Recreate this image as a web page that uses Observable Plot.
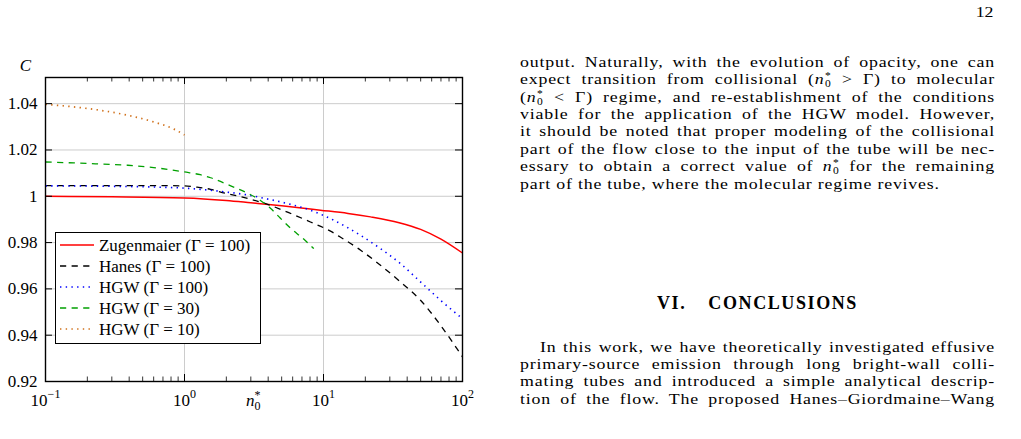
<!DOCTYPE html>
<html>
<head>
<meta charset="utf-8">
<script src="https://cdn.jsdelivr.net/npm/d3@7"></script>
<script src="https://cdn.jsdelivr.net/npm/@observablehq/plot@0.6"></script>
<style>
html,body{margin:0;padding:0;background:#fff;}
body{width:1021px;height:439px;overflow:hidden;position:relative;font-family:'Liberation Serif',serif;color:#000;}
#chart{position:absolute;left:0;top:0;}
#legend{position:absolute;left:55px;top:231.7px;width:205.7px;height:112.6px;box-sizing:border-box;border:1.3px solid #000;background:#fff;padding-top:2px;font-size:17px;font-family:'Liberation Serif',serif;}
#legend .row{display:flex;align-items:center;height:21px;line-height:21px;white-space:nowrap;}
#legend svg{margin-left:3.7px;margin-right:5.3px;flex:none;}
.txt{position:absolute;left:520px;width:413px;font-size:15.5px;letter-spacing:0.7px;transform:scaleX(1.15);transform-origin:0 0;}
.ln{height:17.4px;line-height:17.4px;text-align:justify;text-align-last:justify;white-space:nowrap;}
.ln.last{text-align:left;text-align-last:left;}
.ss{display:inline-block;font-size:10px;line-height:8px;vertical-align:-3px;margin-left:0.5px;margin-right:1px;text-align:left;letter-spacing:0;}
.ss span{display:block;}
#head{position:absolute;left:520px;width:475px;top:293px;text-align:center;font-weight:bold;font-size:18px;letter-spacing:1.6px;line-height:21px;}
#pnum{position:absolute;right:28px;top:2.8px;font-size:15.5px;line-height:17.4px;transform:scaleX(1.15);transform-origin:100% 0;}
</style>
</head>
<body>
<div id="chart"></div>
<div id="legend"></div>
<div id="pnum">12</div>
<div class="txt" id="p1" style="top:52.8px">
<div class="ln">output. Naturally, with the evolution of opacity, one can</div>
<div class="ln">expect transition from collisional (<i>n</i><span class="ss"><span>*</span><span>0</span></span> &gt; Γ) to molecular</div>
<div class="ln">(<i>n</i><span class="ss"><span>*</span><span>0</span></span> &lt; Γ) regime, and re-establishment of the conditions</div>
<div class="ln">viable for the application of the HGW model. However,</div>
<div class="ln">it should be noted that proper modeling of the collisional</div>
<div class="ln">part of the flow close to the input of the tube will be nec-</div>
<div class="ln">essary to obtain a correct value of <i>n</i><span class="ss"><span>*</span><span>0</span></span> for the remaining</div>
<div class="ln last">part of the tube, where the molecular regime revives.</div>
</div>
<div id="head">VI.<span style="margin-left:22px">CONCLUSIONS</span></div>
<div class="txt" id="p2" style="top:337.6px">
<div class="ln" style="padding-left:17.4px">In this work, we have theoretically investigated effusive</div>
<div class="ln">primary-source emission through long bright-wall colli-</div>
<div class="ln">mating tubes and introduced a simple analytical descrip-</div>
<div class="ln">tion of the flow. The proposed Hanes–Giordmaine–Wang</div>
</div>
<script>
// ---- data ----
const xMajor = [0.1, 1, 10, 100];
const xTickExp = ["−1", "0", "1", "2"];
const yTicks = [0.92, 0.94, 0.96, 0.98, 1.0, 1.02, 1.04];
const yTickLabels = ["0.92", "0.94", "0.96", "0.98", "1", "1.02", "1.04"];

const seriesNames = ["Zugenmaier (Γ = 100)", "Hanes (Γ = 100)", "HGW (Γ = 100)", "HGW (Γ = 30)", "HGW (Γ = 10)"];

const zugenmaierX = [0.1, 0.3, 1, 2, 3, 5, 9.5, 15, 21.8, 35, 50, 70, 100];
const zugenmaierY = [1.0000, 0.9998, 0.9993, 0.9982, 0.9972, 0.9959, 0.9940, 0.9926, 0.9911, 0.9886, 0.9857, 0.9815, 0.9755];

const hanesX = [0.1, 0.3, 0.6, 1, 1.2, 1.54, 1.87, 2.75, 3.83, 5.63, 8.05, 11.5, 13.2, 18.5, 25.7, 35.8, 49.9, 69.5, 100];
const hanesY = [1.0046, 1.0046, 1.0046, 1.0045, 1.0040, 1.0030, 1.0016, 0.9993, 0.9968, 0.9929, 0.9889, 0.9846, 0.9824, 0.9767, 0.9702, 0.9630, 0.9551, 0.9443, 0.9306];

const hgw100X = [0.1, 0.3, 0.6, 1, 1.3, 1.96, 2.75, 3.83, 5.8, 8.05, 11.8, 18.5, 25.7, 35.8, 49.9, 69.5, 100];
const hgw100Y = [1.0045, 1.0043, 1.0040, 1.0035, 1.0030, 1.0019, 1.0007, 0.9990, 0.9965, 0.9940, 0.9897, 0.9831, 0.9774, 0.9709, 0.9630, 0.9551, 0.9471];

const hgw30X = [0.1, 0.16, 0.25, 0.39, 0.6, 1, 1.3, 1.54, 2.15, 2.9, 3.5, 4.15, 4.9, 5.8, 7.2, 8.5];
const hgw30Y = [1.0148, 1.0144, 1.0139, 1.0134, 1.0124, 1.0105, 1.0093, 1.0080, 1.0045, 1.0011, 0.9983, 0.9948, 0.9905, 0.9862, 0.9815, 0.9774];

const hgw10X = [0.1, 0.16, 0.25, 0.39, 0.6, 0.84, 1];
const hgw10Y = [1.0397, 1.0386, 1.0371, 1.0350, 1.0321, 1.0290, 1.0265];

const seriesX = [zugenmaierX, hanesX, hgw100X, hgw30X, hgw10X];
const seriesY = [zugenmaierY, hanesY, hgw100Y, hgw30Y, hgw10Y];

// ---- styles ----
const seriesStyle = [
  {stroke: "#ff0000", width: 1.5, dash: null},
  {stroke: "#000000", width: 1.3, dash: "6.2,5.4"},
  {stroke: "#0000ff", width: 1.6, dash: "1.4,4.3"},
  {stroke: "#00a000", width: 1.3, dash: "6.2,5.4"},
  {stroke: "#d0701a", width: 1.7, dash: "1.4,4.3"}
];

const table = seriesNames.flatMap((name, i) => seriesX[i].map((x, j) => ({series: name, x, y: seriesY[i][j]})));

const W = 480, H = 420, mL = 45, mR = 18, mT = 77, mB = 39;
const fW = W - mL - mR, fH = H - mT - mB;
const xMinor = [0.1, 1, 10].flatMap(d => [2, 3, 4, 5, 6, 7, 8, 9].map(k => k * d));
const xInner = xMajor.slice(1, -1);
const grid = "#cccccc";
const serif = "'Liberation Serif', serif";

const lines = seriesNames.map((name, i) => Plot.line(table.filter(d => d.series === name), {
  x: "x", y: "y", stroke: seriesStyle[i].stroke, strokeWidth: seriesStyle[i].width,
  strokeDasharray: seriesStyle[i].dash, strokeLinecap: "butt", curve: "monotone-x"
}));

const svg = Plot.plot({
  width: W, height: H,
  marginLeft: mL, marginRight: mR, marginTop: mT, marginBottom: mB,
  style: {fontFamily: serif, fontSize: "17px", color: "#000", background: "transparent", overflow: "visible"},
  x: {type: "log", domain: [0.1, 100]},
  y: {domain: [0.92, 1.0513]},
  marks: [
    Plot.ruleX(xInner, {x: d => d, stroke: grid, strokeWidth: 1}),
    Plot.ruleY(yTicks.slice(1), {y: d => d, stroke: grid, strokeWidth: 1}),
    ...lines,
    Plot.ruleX(xMinor, {x: d => d, insetTop: fH - 4.5, stroke: "#000", strokeWidth: 0.8}),
    Plot.ruleX(xMinor, {x: d => d, insetBottom: fH - 4.5, stroke: "#000", strokeWidth: 0.8}),
    Plot.ruleX(xInner, {x: d => d, insetTop: fH - 7, stroke: "#000", strokeWidth: 1}),
    Plot.ruleX(xInner, {x: d => d, insetBottom: fH - 7, stroke: "#000", strokeWidth: 1}),
    Plot.ruleY(yTicks, {y: d => d, insetRight: fW - 7, stroke: "#000", strokeWidth: 1}),
    Plot.ruleY(yTicks, {y: d => d, insetLeft: fW - 7, stroke: "#000", strokeWidth: 1}),
    Plot.frame({stroke: "#000", strokeWidth: 1.4}),
    Plot.axisY(yTicks, {tickSize: 0, tickPadding: 8, label: null, fontSize: 17, fontFamily: serif,
      tickFormat: d => yTickLabels[yTicks.indexOf(d)]}),
    Plot.axisX(xMajor, {tickSize: 0, tickPadding: 12, label: null, fontSize: 17, fontFamily: serif,
      tickFormat: d => xTickExp[xMajor.indexOf(d)]}),
    Plot.text(["C"], {text: d => d, frameAnchor: "top-left", dx: -20, dy: -12, textAnchor: "middle",
      lineAnchor: "middle", fontStyle: "italic", fontSize: 17, fontFamily: serif}),
    Plot.text(["n"], {text: d => d, frameAnchor: "bottom", dx: -8, dy: 18.6, textAnchor: "start",
      lineAnchor: "middle", fontStyle: "italic", fontSize: 17, fontFamily: serif})
  ]
});
document.getElementById("chart").appendChild(svg);

// superscript exponents on x tick labels
d3.select(svg).selectAll('g[aria-label="x-axis tick label"] text').each(function() {
  const exp = this.textContent;
  const t = d3.select(this);
  t.text(null);
  t.append("tspan").text("10");
  t.append("tspan").attr("font-size", 12).attr("dy", -8).text(exp);
});
// n_0^* label
d3.select(svg).selectAll("text").filter(function() { return this.textContent === "n"; }).each(function() {
  const t = d3.select(this);
  t.append("tspan").attr("font-size", 12).attr("font-style", "normal").attr("dy", 4).text("0");
  t.append("tspan").attr("font-size", 12).attr("font-style", "normal").attr("dx", -6).attr("dy", -11).text("*");
});

// legend
const leg = d3.select("#legend");
seriesNames.forEach((name, i) => {
  const row = leg.append("div").attr("class", "row");
  const s = row.append("svg").attr("width", 34).attr("height", 10);
  s.append("line").attr("x1", 0).attr("x2", 34).attr("y1", 5).attr("y2", 5)
    .attr("stroke", seriesStyle[i].stroke).attr("stroke-width", seriesStyle[i].width)
    .attr("stroke-dasharray", seriesStyle[i].dash);
  row.append("span").text(name);
});
</script>
</body>
</html>
